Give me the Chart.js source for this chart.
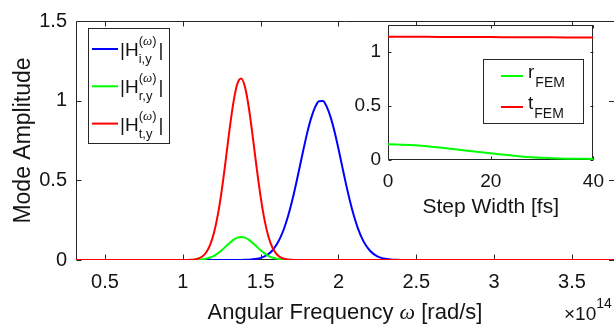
<!DOCTYPE html>
<html>
<head>
<meta charset="utf-8">
<script src="https://cdn.jsdelivr.net/npm/chart.js@4.4.0/dist/chart.umd.min.js"></script>
<style>
html, body { margin: 0; padding: 0; background: #fff; }
#wrap { position: relative; width: 614px; height: 326px; overflow: hidden; }
#main { position: absolute; left: 0; top: 0; }
#inset { position: absolute; left: 340px; top: 0; }
</style>
</head>
<body>
<div id="wrap">
  <canvas id="main" width="614" height="326"></canvas>
  <canvas id="inset" width="274" height="230"></canvas>
</div>
<script>
// angular frequency (x 1e14 rad/s)
const freq = [0.314,
  1.000, 1.025, 1.050, 1.075, 1.100, 1.125, 1.150, 1.175, 1.200, 1.225,
  1.250, 1.275, 1.300, 1.325, 1.350, 1.375, 1.400, 1.425, 1.450, 1.475,
  1.500, 1.525, 1.550, 1.575, 1.600, 1.625, 1.650, 1.675, 1.700, 1.725,
  1.750, 1.775, 1.800, 1.825, 1.850, 1.875, 1.900, 1.925, 1.950, 1.975,
  2.000, 2.025, 2.050, 2.075, 2.100, 2.125, 2.150, 2.175, 2.200, 2.225,
  2.250, 2.275, 2.300, 2.325, 2.350, 2.375, 2.400, 2.425, 2.450,
  3.770];

// |H_i,y| incident (blue)
const hInc = [0,
  0, 0, 0, 0, 0, 0, 0, 0, 0, 0,
  0, 0, 0, 0.0001, 0.0002, 0.0005, 0.0011, 0.0021, 0.0040, 0.0074,
  0.0132, 0.0227, 0.0375, 0.0598, 0.0923, 0.137, 0.196, 0.271, 0.362, 0.466,
  0.579, 0.693, 0.801, 0.892, 0.959, 0.997, 0.998, 0.961, 0.895, 0.805,
  0.698, 0.583, 0.470, 0.366, 0.275, 0.199, 0.139, 0.0938, 0.0610, 0.0382,
  0.0231, 0.0135, 0.0076, 0.0041, 0.0022, 0.0011, 0.0005, 0.0002, 0,
  0];

// |H_r,y| reflected (green)
const hRef = [0,
  0.0001, 0.0002, 0.0004, 0.0010, 0.0022, 0.0045, 0.0087, 0.0157, 0.0265, 0.0415,
  0.0609, 0.0832, 0.1061, 0.1262, 0.1401, 0.1450, 0.1401, 0.1262, 0.1061, 0.0832,
  0.0609, 0.0415, 0.0265, 0.0157, 0.0087, 0.0045, 0.0022, 0.0010, 0.0004, 0.0002,
  0.0001, 0, 0, 0, 0, 0, 0, 0, 0, 0,
  0, 0, 0, 0, 0, 0, 0, 0, 0, 0,
  0, 0, 0, 0, 0, 0, 0, 0, 0,
  0];

// |H_t,y| transmitted (red)
const hTra = [0,
  0.0002, 0.0005, 0.0014, 0.0039, 0.0097, 0.022, 0.047, 0.093, 0.169, 0.283,
  0.436, 0.621, 0.816, 0.988, 1.105, 1.139, 1.084, 0.951, 0.770, 0.575,
  0.396, 0.252, 0.148, 0.080, 0.040, 0.018, 0.0078, 0.0031, 0.0011, 0.0004,
  0.0001, 0, 0, 0, 0, 0, 0, 0, 0, 0,
  0, 0, 0, 0, 0, 0, 0, 0, 0, 0,
  0, 0, 0, 0, 0, 0, 0, 0, 0,
  0];

const xTicks = [0.5, 1, 1.5, 2, 2.5, 3, 3.5];
const xTickLabels = ['0.5', '1', '1.5', '2', '2.5', '3', '3.5'];
const yTicks = [0, 0.5, 1, 1.5];
const yTickLabels = ['0', '0.5', '1', '1.5'];

// inset: step width [fs]
const steps = [0, 5, 10, 15, 20, 25, 30, 35, 40];
const rFEM = [0.145, 0.136, 0.115, 0.088, 0.062, 0.038, 0.020, 0.012, 0.010];
const tFEM = [1.142, 1.141, 1.140, 1.139, 1.138, 1.137, 1.136, 1.135, 1.135];
const insetXTicks = [0, 20, 40];
const insetXLabels = ['0', '20', '40'];
const insetYTicks = [0, 0.5, 1];
const insetYLabels = ['0', '0.5', '1'];

const ink = '#141414';
const sans = '"Liberation Sans", Arial, Helvetica, sans-serif';
const serif = '"Liberation Serif", "Times New Roman", serif';

// box + inward ticks, MATLAB style
const axisBox = {
  id: 'axisBox',
  beforeDatasetsDraw(chart, args, opts) {
    const { ctx, chartArea: a, scales } = chart;
    const xs = scales.x, ys = scales.y;
    const tl = opts.tickLen;
    ctx.save();
    if (opts.fill) {
      ctx.fillStyle = '#fff';
      ctx.fillRect(a.left, a.top, a.right - a.left, a.bottom - a.top);
    }
    ctx.strokeStyle = '#262626';
    ctx.lineWidth = 1;
    const L = Math.round(a.left) + 0.5, R = Math.round(a.right) - 0.5;
    const T = Math.round(a.top) + 0.5, B = Math.round(a.bottom) - 0.5;
    ctx.beginPath();
    ctx.moveTo(L, T); ctx.lineTo(L, B); ctx.lineTo(R + 1, B);
    ctx.moveTo(L, T); ctx.lineTo(R + 1, T);
    if (opts.right) { ctx.moveTo(R, T); ctx.lineTo(R, B); }
    xs.ticks.forEach(t => {
      const px = Math.round(xs.getPixelForValue(t.value)) + 0.5;
      ctx.moveTo(px, B); ctx.lineTo(px, B - tl);
      ctx.moveTo(px, T); ctx.lineTo(px, T + tl);
    });
    ys.ticks.forEach(t => {
      const py = Math.round(ys.getPixelForValue(t.value)) + 0.5;
      ctx.moveTo(L, py); ctx.lineTo(L + tl, py);
      ctx.moveTo(a.right, py); ctx.lineTo(a.right - tl, py);
    });
    ctx.stroke();
    ctx.restore();
  }
};

function drawRuns(ctx, runs, x, y) {
  runs.forEach(r => {
    ctx.font = r.font;
    ctx.fillText(r.text, x, y);
    x += ctx.measureText(r.text).width;
  });
  return x;
}
function runsWidth(ctx, runs) {
  let w = 0;
  runs.forEach(r => { ctx.font = r.font; w += ctx.measureText(r.text).width; });
  return w;
}

const mainText = {
  id: 'mainText',
  afterDraw(chart) {
    const { ctx, chartArea: a } = chart;
    ctx.save();
    ctx.fillStyle = ink;
    ctx.textBaseline = 'alphabetic';

    // y title
    ctx.save();
    ctx.translate(30, (a.top + a.bottom) / 2);
    ctx.rotate(-Math.PI / 2);
    ctx.textAlign = 'center';
    ctx.font = '23px ' + sans;
    ctx.fillText('Mode Amplitude', 0, 0);
    ctx.restore();

    // x title
    ctx.textAlign = 'left';
    const xt = [
      { text: 'Angular Frequency ', font: '22px ' + sans },
      { text: 'ω', font: 'italic 22px ' + serif },
      { text: ' [rad/s]', font: '22px ' + sans }
    ];
    drawRuns(ctx, xt, (a.left + a.right) / 2 - runsWidth(ctx, xt) / 2, 319);

    // exponent
    ctx.font = '19px ' + sans;
    ctx.fillText('×10', 564, 320);
    const ew = ctx.measureText('×10').width;
    ctx.font = '14px ' + sans;
    ctx.fillText('14', 564 + ew, 308);

    // legend
    ctx.fillStyle = '#fff';
    ctx.fillRect(88.5, 28.5, 81, 115);
    ctx.strokeStyle = '#262626';
    ctx.lineWidth = 1;
    ctx.strokeRect(88.5, 28.5, 81, 115);
    const entries = [
      { color: '#0000ff', sub: 'i,y' },
      { color: '#00ff00', sub: 'r,y' },
      { color: '#ff0000', sub: 't,y' }
    ];
    entries.forEach((e, i) => {
      const ly = 49 + i * 37.3;
      ctx.strokeStyle = e.color;
      ctx.lineWidth = 2;
      ctx.beginPath();
      ctx.moveTo(92, ly); ctx.lineTo(118, ly);
      ctx.stroke();
      ctx.fillStyle = ink;
      const x0 = drawRuns(ctx, [{ text: '|H', font: '19px ' + sans }], 120, ly + 7);
      const sup = [
        { text: '(', font: '13px ' + sans },
        { text: 'ω', font: 'italic 13px ' + serif },
        { text: ')', font: '13px ' + sans }
      ];
      const x1 = drawRuns(ctx, sup, x0, ly - 4);
      const x2 = drawRuns(ctx, [{ text: e.sub, font: '13px ' + sans }], x0, ly + 14);
      drawRuns(ctx, [{ text: '|', font: '19px ' + sans }], Math.max(x1, x2) + 2, ly + 7);
    });
    ctx.restore();
  }
};

const insetText = {
  id: 'insetText',
  afterDraw(chart) {
    const { ctx, chartArea: a } = chart;
    ctx.save();
    ctx.fillStyle = ink;
    ctx.textAlign = 'center';
    ctx.textBaseline = 'alphabetic';
    ctx.font = '21px ' + sans;
    ctx.fillText('Step Width [fs]', (a.left + a.right) / 2, 213);

    // legend box (page x 483..583, y 59..123)
    const bx = 143.5, by = 59.5, bw = 100, bh = 64;
    ctx.fillStyle = '#fff';
    ctx.fillRect(bx, by, bw, bh);
    ctx.strokeStyle = '#262626';
    ctx.lineWidth = 1;
    ctx.strokeRect(bx, by, bw, bh);
    const entries = [
      { color: '#00ff00', main: 'r', y: 76 },
      { color: '#ff0000', main: 't', y: 107 }
    ];
    ctx.textAlign = 'left';
    entries.forEach(e => {
      ctx.strokeStyle = e.color;
      ctx.lineWidth = 2;
      ctx.beginPath();
      ctx.moveTo(161, e.y); ctx.lineTo(183, e.y);
      ctx.stroke();
      ctx.fillStyle = ink;
      const x0 = drawRuns(ctx, [{ text: e.main, font: '19px ' + sans }], 188, e.y + 2);
      drawRuns(ctx, [{ text: 'FEM', font: '14px ' + sans }], x0 + 1, e.y + 11);
    });
    ctx.restore();
  }
};

function pts(xv, yv) {
  return xv.map((x, i) => ({ x: x, y: yv[i] }));
}

new Chart(document.getElementById('main'), {
  type: 'line',
  data: {
    datasets: [
      { label: '|H i,y|', data: pts(freq, hInc), borderColor: '#0000ff', order: 2 },
      { label: '|H r,y|', data: pts(freq, hRef), borderColor: '#00ff00', order: 1 },
      { label: '|H t,y|', data: pts(freq, hTra), borderColor: '#ff0000', order: 0 }
    ]
  },
  options: {
    responsive: false,
    animation: false,
    layout: { padding: { top: 17, right: 0, left: 0, bottom: 0 } },
    elements: {
      point: { radius: 0 },
      line: { borderWidth: 2, cubicInterpolationMode: 'monotone', fill: false }
    },
    plugins: {
      legend: { display: false },
      tooltip: { enabled: false },
      axisBox: { tickLen: 5, right: false, fill: false }
    },
    scales: {
      x: {
        type: 'linear', min: 0.314, max: 3.77,
        grid: { display: false, drawTicks: false },
        border: { display: false },
        afterBuildTicks: s => { s.ticks = xTicks.map(v => ({ value: v })); },
        afterFit: s => { s.height = 66; },
        ticks: {
          callback: (v, i) => xTickLabels[i],
          color: ink, font: { family: sans, size: 20 },
          padding: 10, maxRotation: 0, autoSkip: false
        }
      },
      y: {
        type: 'linear', min: 0, max: 1.5,
        grid: { display: false, drawTicks: false },
        border: { display: false },
        afterBuildTicks: s => { s.ticks = yTicks.map(v => ({ value: v })); },
        afterFit: s => { s.width = 76; },
        ticks: {
          callback: (v, i) => yTickLabels[i],
          color: ink, font: { family: sans, size: 20 },
          padding: 9
        }
      }
    }
  },
  plugins: [axisBox, mainText]
});

new Chart(document.getElementById('inset'), {
  type: 'line',
  data: {
    datasets: [
      { label: 'r FEM', data: pts(steps, rFEM), borderColor: '#00ff00' },
      { label: 't FEM', data: pts(steps, tFEM), borderColor: '#ff0000' }
    ]
  },
  options: {
    responsive: false,
    animation: false,
    layout: { padding: { top: 25, right: 18, left: 0, bottom: 0 } },
    elements: {
      point: { radius: 0 },
      line: { borderWidth: 2, cubicInterpolationMode: 'monotone', fill: false }
    },
    plugins: {
      legend: { display: false },
      tooltip: { enabled: false },
      axisBox: { tickLen: 3, right: true, fill: true }
    },
    scales: {
      x: {
        type: 'linear', min: 0, max: 40,
        grid: { display: false, drawTicks: false },
        border: { display: false },
        afterBuildTicks: s => { s.ticks = insetXTicks.map(v => ({ value: v })); },
        afterFit: s => { s.height = 70; },
        ticks: {
          callback: (v, i) => insetXLabels[i],
          color: ink, font: { family: sans, size: 19 },
          padding: 10, maxRotation: 0, autoSkip: false
        }
      },
      y: {
        type: 'linear', min: 0, max: 1.25,
        grid: { display: false, drawTicks: false },
        border: { display: false },
        afterBuildTicks: s => { s.ticks = insetYTicks.map(v => ({ value: v })); },
        afterFit: s => { s.width = 48; },
        ticks: {
          callback: (v, i) => insetYLabels[i],
          color: ink, font: { family: sans, size: 19 },
          padding: 7
        }
      }
    }
  },
  plugins: [axisBox, insetText]
});
</script>
</body>
</html>
